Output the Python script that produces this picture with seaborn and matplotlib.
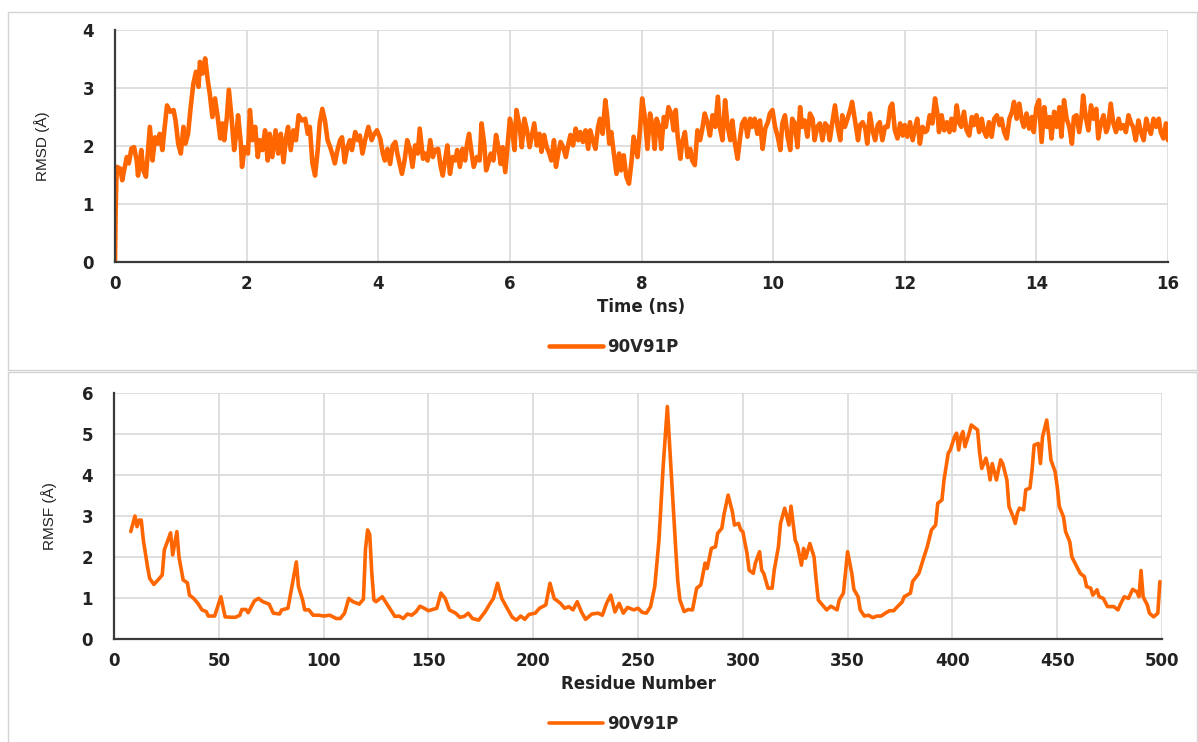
import matplotlib
matplotlib.use("Agg")
import matplotlib.pyplot as plt
from matplotlib.patches import Rectangle
import pandas as pd
import seaborn as sns

# RMSD trace (time in ns, RMSD in Angstrom)
time_ns = [
    0.00, 0.01, 0.02, 0.03, 0.08, 0.11, 0.14, 0.18, 0.21, 0.25,
    0.29, 0.33, 0.35, 0.40, 0.43, 0.47, 0.50, 0.53, 0.57, 0.61,
    0.65, 0.68, 0.72, 0.75, 0.79, 0.84, 0.89, 0.92, 0.96, 1.00,
    1.04, 1.07, 1.11, 1.15, 1.19, 1.23, 1.27, 1.29, 1.33, 1.37,
    1.41, 1.44, 1.48, 1.52, 1.56, 1.60, 1.63, 1.66, 1.70, 1.73,
    1.77, 1.81, 1.85, 1.87, 1.91, 1.93, 1.97, 2.02, 2.05, 2.09,
    2.13, 2.17, 2.20, 2.24, 2.28, 2.32, 2.35, 2.39, 2.44, 2.48,
    2.52, 2.56, 2.60, 2.63, 2.67, 2.71, 2.75, 2.79, 2.84, 2.89,
    2.93, 2.96, 3.00, 3.04, 3.08, 3.11, 3.15, 3.19, 3.23, 3.27,
    3.30, 3.34, 3.38, 3.42, 3.45, 3.49, 3.53, 3.57, 3.60, 3.65,
    3.69, 3.72, 3.76, 3.80, 3.85, 3.90, 3.93, 3.98, 4.03, 4.07,
    4.10, 4.14, 4.18, 4.22, 4.26, 4.29, 4.32, 4.36, 4.40, 4.44,
    4.48, 4.52, 4.56, 4.60, 4.63, 4.68, 4.71, 4.75, 4.79, 4.83,
    4.86, 4.91, 4.95, 4.98, 5.01, 5.05, 5.09, 5.13, 5.17, 5.20,
    5.24, 5.28, 5.32, 5.35, 5.38, 5.42, 5.45, 5.50, 5.54, 5.57,
    5.61, 5.64, 5.67, 5.71, 5.75, 5.79, 5.83, 5.86, 5.89, 5.93,
    5.95, 6.00, 6.03, 6.07, 6.10, 6.15, 6.18, 6.22, 6.26, 6.30,
    6.33, 6.37, 6.41, 6.45, 6.48, 6.52, 6.56, 6.60, 6.63, 6.67,
    6.70, 6.74, 6.77, 6.81, 6.85, 6.89, 6.92, 6.96, 7.00, 7.04,
    7.07, 7.11, 7.15, 7.19, 7.22, 7.26, 7.30, 7.34, 7.37, 7.41,
    7.45, 7.48, 7.51, 7.54, 7.58, 7.62, 7.66, 7.69, 7.73, 7.77,
    7.81, 7.85, 7.88, 7.94, 7.98, 8.01, 8.05, 8.09, 8.13, 8.17,
    8.20, 8.23, 8.27, 8.30, 8.34, 8.37, 8.41, 8.45, 8.49, 8.52,
    8.55, 8.59, 8.62, 8.66, 8.70, 8.74, 8.77, 8.81, 8.85, 8.89,
    8.92, 8.96, 9.00, 9.04, 9.08, 9.12, 9.16, 9.19, 9.23, 9.27,
    9.31, 9.35, 9.38, 9.42, 9.46, 9.50, 9.53, 9.57, 9.61, 9.65,
    9.68, 9.72, 9.76, 9.80, 9.84, 9.88, 9.92, 9.95, 9.99, 10.03,
    10.07, 10.11, 10.14, 10.18, 10.22, 10.26, 10.29, 10.33, 10.37, 10.41,
    10.44, 10.48, 10.52, 10.56, 10.60, 10.63, 10.67, 10.71, 10.75, 10.79,
    10.83, 10.86, 10.90, 10.94, 10.98, 11.02, 11.05, 11.09, 11.13, 11.17,
    11.20, 11.25, 11.29, 11.32, 11.36, 11.40, 11.43, 11.47, 11.51, 11.55,
    11.59, 11.62, 11.66, 11.70, 11.74, 11.78, 11.81, 11.85, 11.89, 11.93,
    11.97, 12.00, 12.04, 12.08, 12.12, 12.16, 12.19, 12.23, 12.27, 12.31,
    12.34, 12.38, 12.42, 12.46, 12.50, 12.52, 12.56, 12.60, 12.64, 12.68,
    12.71, 12.75, 12.79, 12.83, 12.86, 12.90, 12.94, 12.98, 13.02, 13.05,
    13.09, 13.13, 13.17, 13.20, 13.24, 13.28, 13.32, 13.36, 13.40, 13.44,
    13.47, 13.51, 13.55, 13.59, 13.63, 13.66, 13.70, 13.74, 13.78, 13.81,
    13.85, 13.89, 13.93, 13.96, 14.00, 14.04, 14.08, 14.12, 14.16, 14.20,
    14.23, 14.27, 14.31, 14.35, 14.38, 14.42, 14.46, 14.50, 14.54, 14.57,
    14.61, 14.65, 14.69, 14.71, 14.75, 14.79, 14.83, 14.87, 14.91, 14.94,
    14.98, 15.02, 15.06, 15.09, 15.13, 15.17, 15.21, 15.25, 15.28, 15.32,
    15.36, 15.40, 15.44, 15.47, 15.51, 15.55, 15.59, 15.63, 15.67, 15.70,
    15.74, 15.78, 15.82, 15.86, 15.89, 15.93, 15.97, 16.00,
]
rmsd = [
    0.00, 0.90, 1.40, 1.64, 1.61, 1.41, 1.59, 1.81, 1.70, 1.96,
    1.98, 1.75, 1.49, 1.93, 1.58, 1.47, 1.90, 2.33, 1.75, 2.15,
    2.04, 2.21, 1.93, 2.27, 2.70, 2.59, 2.62, 2.44, 2.04, 1.87,
    2.33, 2.04, 2.21, 2.67, 3.07, 3.28, 3.02, 3.45, 3.25, 3.51,
    3.13, 2.90, 2.50, 2.82, 2.50, 2.13, 2.39, 2.10, 2.50, 2.97,
    2.50, 1.93, 2.27, 2.53, 2.07, 1.64, 1.98, 1.87, 2.62, 2.10,
    2.33, 1.81, 2.10, 1.93, 2.27, 1.75, 2.21, 1.81, 2.27, 1.87,
    2.21, 1.72, 2.15, 2.33, 1.93, 2.27, 2.10, 2.53, 2.44, 2.47,
    2.21, 2.33, 1.70, 1.49, 1.93, 2.39, 2.64, 2.44, 2.10, 1.98,
    1.87, 1.70, 1.93, 2.10, 2.15, 1.72, 1.98, 2.10, 1.93, 2.24,
    2.10, 2.18, 1.87, 2.10, 2.33, 2.10, 2.19, 2.27, 2.13, 1.87,
    1.75, 1.95, 1.69, 2.01, 2.07, 1.87, 1.72, 1.52, 1.75, 2.10,
    1.95, 1.64, 2.01, 1.87, 2.30, 1.78, 1.87, 1.75, 2.10, 1.81,
    1.93, 1.95, 1.64, 1.49, 1.72, 2.01, 1.52, 1.81, 1.75, 1.93,
    1.64, 1.95, 1.75, 2.04, 2.21, 1.87, 1.64, 1.81, 1.75, 2.39,
    2.04, 1.58, 1.69, 1.87, 1.75, 2.19, 1.95, 1.69, 1.98, 1.55,
    1.81, 2.47, 2.33, 1.93, 2.62, 2.33, 1.98, 2.47, 2.27, 1.98,
    2.16, 2.39, 2.01, 2.21, 1.90, 2.19, 1.98, 1.87, 1.75, 2.10,
    1.64, 1.90, 2.07, 1.98, 1.81, 2.04, 2.19, 2.01, 2.30, 2.10,
    2.24, 2.07, 2.27, 1.95, 2.27, 2.10, 1.95, 2.33, 2.47, 2.21,
    2.79, 2.50, 2.04, 2.24, 1.87, 1.52, 1.87, 1.58, 1.84, 1.47,
    1.35, 1.75, 2.16, 1.81, 2.33, 2.82, 2.50, 1.95, 2.56, 2.33,
    1.95, 2.47, 2.33, 1.95, 2.50, 2.33, 2.67, 2.56, 2.27, 2.62,
    2.16, 1.78, 2.07, 2.24, 1.81, 1.95, 1.75, 1.67, 2.27, 2.10,
    2.27, 2.56, 2.41, 2.18, 2.53, 2.33, 2.85, 2.33, 2.10, 2.79,
    2.33, 2.10, 2.44, 2.04, 1.78, 2.16, 2.39, 2.47, 2.16, 2.47,
    2.33, 2.47, 2.21, 2.44, 1.95, 2.30, 2.41, 2.56, 2.62, 2.33,
    2.16, 1.93, 2.39, 2.53, 2.16, 1.93, 2.47, 2.39, 1.98, 2.67,
    2.33, 2.44, 2.16, 2.56, 2.47, 2.10, 2.33, 2.39, 2.10, 2.39,
    2.33, 2.10, 2.41, 2.70, 2.33, 2.10, 2.53, 2.33, 2.47, 2.62,
    2.76, 2.39, 2.10, 2.36, 2.41, 2.30, 2.04, 2.56, 2.27, 2.10,
    2.36, 2.41, 2.10, 2.33, 2.33, 2.67, 2.73, 2.27, 2.13, 2.39,
    2.18, 2.36, 2.16, 2.41, 2.10, 2.33, 2.47, 2.04, 2.33, 2.24,
    2.27, 2.53, 2.39, 2.82, 2.53, 2.24, 2.53, 2.27, 2.41, 2.24,
    2.47, 2.27, 2.70, 2.39, 2.33, 2.59, 2.27, 2.18, 2.50, 2.36,
    2.53, 2.24, 2.47, 2.27, 2.16, 2.41, 2.16, 2.47, 2.53, 2.36,
    2.47, 2.24, 2.13, 2.47, 2.59, 2.76, 2.47, 2.73, 2.44, 2.33,
    2.56, 2.30, 2.50, 2.24, 2.67, 2.79, 2.07, 2.67, 2.33, 2.50,
    2.13, 2.59, 2.33, 2.67, 2.16, 2.79, 2.47, 2.33, 2.04, 2.50,
    2.53, 2.24, 2.56, 2.87, 2.50, 2.27, 2.70, 2.47, 2.64, 2.13,
    2.39, 2.53, 2.24, 2.33, 2.73, 2.39, 2.24, 2.47, 2.30, 2.36,
    2.24, 2.53, 2.39, 2.33, 2.10, 2.44, 2.24, 2.10, 2.47, 2.33,
    2.21, 2.47, 2.33, 2.47, 2.24, 2.13, 2.39, 2.10,
]

# RMSF profile
residue = [
    8, 10, 11, 12, 13, 14, 16, 17, 19, 21,
    23, 24, 27, 28, 30, 31, 33, 35, 36, 38,
    40, 42, 44, 45, 48, 51, 53, 56, 58, 60,
    61, 63, 64, 67, 69, 71, 74, 76, 79, 80,
    83, 84, 87, 88, 90, 91, 93, 95, 98, 100,
    103, 106, 108, 110, 112, 114, 117, 119, 120, 121,
    122, 123, 124, 125, 128, 130, 132, 134, 136, 138,
    140, 142, 144, 146, 148, 150, 152, 154, 156, 158,
    160, 163, 165, 167, 169, 171, 174, 177, 179, 181,
    183, 185, 188, 190, 192, 194, 196, 198, 201, 203,
    206, 208, 210, 213, 215, 217, 219, 221, 223, 225,
    228, 231, 233, 235, 237, 239, 241, 243, 245, 248,
    250, 252, 254, 256, 258, 260, 262, 264, 265, 266,
    267, 268, 269, 270, 272, 274, 276, 278, 280, 282,
    283, 285, 287, 288, 290, 291, 293, 295, 296, 298,
    299, 300, 302, 303, 305, 306, 308, 309, 310, 312,
    314, 315, 317, 318, 320, 322, 323, 325, 326, 328,
    329, 330, 332, 334, 335, 336, 338, 340, 342, 345,
    346, 348, 350, 352, 353, 355, 356, 358, 360, 362,
    364, 366, 368, 370, 372, 374, 376, 377, 380, 381,
    384, 386, 388, 390, 392, 393, 395, 396, 398, 399,
    401, 402, 403, 404, 405, 406, 408, 409, 410, 412,
    413, 414, 416, 417, 418, 419, 420, 421, 423, 424,
    426, 427, 429, 430, 431, 432, 434, 435, 437, 438,
    439, 441, 442, 443, 445, 446, 447, 449, 450, 451,
    453, 454, 456, 457, 459, 461, 463, 464, 466, 467,
    469, 470, 472, 474, 477, 479, 480, 482, 484, 486,
    488, 489, 490, 491, 493, 494, 496, 498, 499,
]
rmsf = [
    2.62, 3.00, 2.74, 2.90, 2.90, 2.41, 1.76, 1.48, 1.33, 1.44,
    1.56, 2.17, 2.59, 2.05, 2.62, 2.00, 1.44, 1.37, 1.07, 0.99,
    0.87, 0.71, 0.67, 0.56, 0.56, 1.03, 0.54, 0.53, 0.53, 0.58,
    0.72, 0.72, 0.64, 0.93, 0.99, 0.91, 0.85, 0.63, 0.61, 0.71,
    0.75, 1.03, 1.88, 1.28, 0.95, 0.71, 0.71, 0.58, 0.58, 0.56,
    0.58, 0.50, 0.50, 0.63, 0.99, 0.91, 0.85, 0.97, 2.20, 2.66,
    2.55, 1.60, 0.95, 0.91, 1.03, 0.87, 0.71, 0.55, 0.56, 0.50,
    0.61, 0.58, 0.66, 0.80, 0.75, 0.69, 0.72, 0.75, 1.12, 0.99,
    0.71, 0.63, 0.53, 0.55, 0.63, 0.50, 0.46, 0.66, 0.83, 0.99,
    1.36, 0.99, 0.71, 0.53, 0.46, 0.56, 0.48, 0.60, 0.63, 0.75,
    0.83, 1.36, 0.99, 0.87, 0.75, 0.79, 0.71, 0.91, 0.66, 0.48,
    0.61, 0.63, 0.58, 0.87, 1.07, 0.66, 0.87, 0.63, 0.77, 0.71,
    0.75, 0.65, 0.63, 0.79, 1.28, 2.41, 4.20, 5.67, 4.80, 3.90,
    3.10, 2.20, 1.40, 0.95, 0.67, 0.72, 0.71, 1.24, 1.32, 1.85,
    1.72, 2.21, 2.25, 2.58, 2.70, 3.03, 3.51, 3.11, 2.78, 2.82,
    2.66, 2.62, 2.09, 1.68, 1.60, 1.85, 2.13, 1.68, 1.60, 1.24,
    1.24, 1.68, 2.25, 2.82, 3.19, 2.78, 3.24, 2.41, 2.29, 1.80,
    2.21, 1.97, 2.33, 2.00, 1.44, 0.95, 0.83, 0.71, 0.80, 0.71,
    0.95, 1.12, 2.13, 1.60, 1.21, 1.03, 0.71, 0.56, 0.58, 0.52,
    0.56, 0.56, 0.63, 0.69, 0.69, 0.80, 0.90, 1.03, 1.12, 1.40,
    1.60, 1.93, 2.25, 2.66, 2.78, 3.31, 3.39, 3.88, 4.53, 4.61,
    4.93, 5.02, 4.61, 4.93, 5.06, 4.69, 5.02, 5.22, 5.18, 5.10,
    4.53, 4.16, 4.41, 4.20, 3.88, 4.28, 4.08, 3.88, 4.37, 4.28,
    3.88, 3.23, 2.98, 2.82, 3.07, 3.19, 3.15, 3.64, 3.68, 4.12,
    4.73, 4.77, 4.28, 4.93, 5.34, 4.93, 4.37, 4.08, 3.72, 3.23,
    2.98, 2.62, 2.37, 2.00, 1.80, 1.60, 1.52, 1.28, 1.24, 1.07,
    1.20, 1.03, 0.99, 0.79, 0.79, 0.71, 0.83, 1.03, 0.99, 1.21,
    1.15, 1.03, 1.67, 1.03, 0.83, 0.63, 0.54, 0.63, 1.40,
]

SERIES = "90V91P"
rmsd_ticks = [0, 1, 2, 3, 4]
time_ticks = [0, 2, 4, 6, 8, 10, 12, 14, 16]
rmsf_ticks = [0, 1, 2, 3, 4, 5, 6]
res_ticks = [0, 50, 100, 150, 200, 250, 300, 350, 400, 450, 500]

ORANGE = "#FF6600"
W, H = 1198, 742

sns.set_theme(style="whitegrid")
plt.rcParams["font.family"] = ["DejaVu Sans"]

fig = plt.figure(figsize=(W / 100, H / 100), dpi=100)

# light frames round each chart, as in the source document
for top, bottom in [(12, 370), (372, 760)]:
    fig.patches.append(Rectangle(
        (8 / W, 1 - bottom / H), (1197 - 8) / W, (bottom - top) / H,
        transform=fig.transFigure, fill=False, edgecolor="#d4d4d4", linewidth=1.0))

ax1 = fig.add_axes([115 / W, 1 - 262 / H, (1168 - 115) / W, (262 - 30) / H])
ax2 = fig.add_axes([114 / W, 1 - 639 / H, (1162 - 114) / W, (639 - 393) / H])

df_rmsd = pd.DataFrame({"Time (ns)": time_ns, "RMSD": rmsd})
df_rmsf = pd.DataFrame({"Residue": residue, "RMSF": rmsf})

sns.lineplot(data=df_rmsd, x="Time (ns)", y="RMSD", ax=ax1, color=ORANGE,
             linewidth=3.3, estimator=None, sort=False, label=SERIES)
sns.lineplot(data=df_rmsf, x="Residue", y="RMSF", ax=ax2, color=ORANGE,
             linewidth=2.6, estimator=None, sort=False, label=SERIES)


def style(ax, xticks, yticks, xlabel, ylabel, ylab_x, leg_y):
    ax.set_xlim(xticks[0], xticks[-1])
    ax.set_ylim(yticks[0], yticks[-1])
    ax.set_xticks(xticks)
    ax.set_yticks(yticks)
    ax.grid(True, color="#d9d9d9", linewidth=1.2)
    for side in ["top", "right"]:
        ax.spines[side].set_visible(False)
    for side in ["left", "bottom"]:
        ax.spines[side].set_color("#3a3a3a")
        ax.spines[side].set_linewidth(1.6)
    ax.tick_params(axis="both", length=0, labelsize=12, colors="#222222")
    ax.tick_params(axis="y", pad=15)
    ax.tick_params(axis="x", pad=9)
    for lab in ax.get_xticklabels() + ax.get_yticklabels():
        lab.set_fontweight("bold")
    ax.set_xlabel(xlabel, fontsize=12, fontweight="bold", color="#222222", labelpad=4)
    ax.set_ylabel(ylabel, fontsize=11, family=["Liberation Sans", "DejaVu Sans"],
                  color="#222222")
    ax.yaxis.set_label_coords(ylab_x, 0.5)
    ax.legend(loc="center", bbox_to_anchor=(614 / W, 1 - leg_y / H),
              bbox_transform=fig.transFigure, frameon=False, handlelength=3.2,
              handletextpad=0.3, prop={"weight": "bold", "size": 12})


style(ax1, time_ticks, rmsd_ticks, "Time (ns)", "RMSD (Å)", -0.062, 347)
style(ax2, res_ticks, rmsf_ticks, "Residue Number", "RMSF (Å)", -0.054, 724)

fig.savefig("out.png", dpi=100)
